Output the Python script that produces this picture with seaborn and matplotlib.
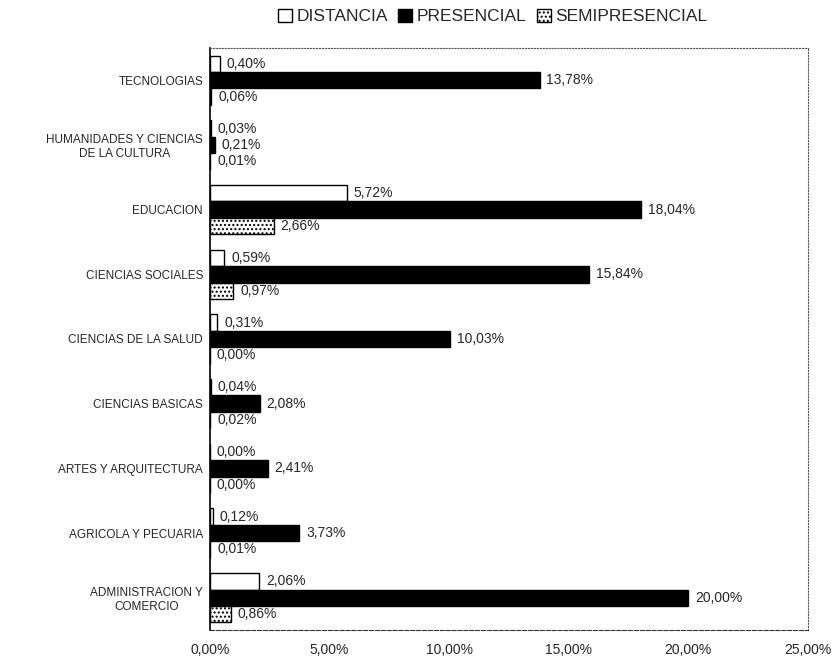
import pandas as pd
import numpy as np
import matplotlib
matplotlib.use("Agg")
import matplotlib.pyplot as plt
from matplotlib.patches import Patch
import seaborn as sns

categorias = ["TECNOLOGIAS", "HUMANIDADES Y CIENCIAS\nDE LA CULTURA", "EDUCACION",
              "CIENCIAS SOCIALES", "CIENCIAS DE LA SALUD", "CIENCIAS BASICAS",
              "ARTES Y ARQUITECTURA", "AGRICOLA Y PECUARIA", "ADMINISTRACION Y\nCOMERCIO"]
modalidades = ["DISTANCIA", "PRESENCIAL", "SEMIPRESENCIAL"]
distancia = [0.40, 0.03, 5.72, 0.59, 0.31, 0.04, 0.00, 0.12, 2.06]
presencial = [13.78, 0.21, 18.04, 15.84, 10.03, 2.08, 2.41, 3.73, 20.00]
semipresencial = [0.06, 0.01, 2.66, 0.97, 0.00, 0.02, 0.00, 0.01, 0.86]
xticks = [0, 5, 10, 15, 20, 25]

df = pd.DataFrame({"cat": categorias * 3,
                   "mod": np.repeat(modalidades, len(categorias)),
                   "val": distancia + presencial + semipresencial})

sns.set_style("white")
plt.rcParams['font.family'] = ['Liberation Sans', 'DejaVu Sans']

fig = plt.figure(figsize=(8.35, 6.66), dpi=100)
ax = fig.add_axes([0.2515, 0.054, 0.716, 0.874])

sns.barplot(data=df, y="cat", x="val", hue="mod", hue_order=modalidades,
            order=categorias, orient="h", palette=["white", "black", "white"],
            edgecolor="black", linewidth=1.0, width=0.76, gap=0, legend=False, ax=ax)

for bar in ax.containers[2]:
    bar.set_hatch("....")

for cont, vals in zip(ax.containers, [distancia, presencial, semipresencial]):
    ax.bar_label(cont, labels=[f"{v:.2f}%".replace(".", ",") for v in vals],
                 padding=5, fontsize=10)

ax.set_xlim(0, 25)
ax.set_xticks(xticks)
ax.set_xticklabels([f"{t:.2f}%".replace(".", ",") for t in xticks], fontsize=10)
ax.set_xlabel("")
ax.set_ylabel("")
ax.tick_params(axis="y", length=0, pad=5, labelsize=8.5)
ax.tick_params(axis="x", length=0, pad=9)
for lbl in ax.get_yticklabels():
    lbl.set_horizontalalignment("right")
    lbl.set_multialignment("center")

ax.spines["left"].set_color("black")
ax.spines["left"].set_linewidth(1.2)
for s in ["top", "right"]:
    ax.spines[s].set_linestyle(":")
    ax.spines[s].set_color("#555555")
ax.spines["bottom"].set_linestyle("--")
ax.spines["bottom"].set_color("#333333")

handles = [Patch(facecolor="white", edgecolor="black", label="DISTANCIA"),
           Patch(facecolor="black", edgecolor="black", label="PRESENCIAL"),
           Patch(facecolor="white", edgecolor="black", hatch="....", label="SEMIPRESENCIAL")]
fig.legend(handles=handles, loc="center", bbox_to_anchor=(0.59, 0.975), ncol=3,
           frameon=False, fontsize=12.5, handlelength=0.8, handleheight=0.8,
           handletextpad=0.25, columnspacing=0.6)

fig.savefig("out.png", dpi=100)
